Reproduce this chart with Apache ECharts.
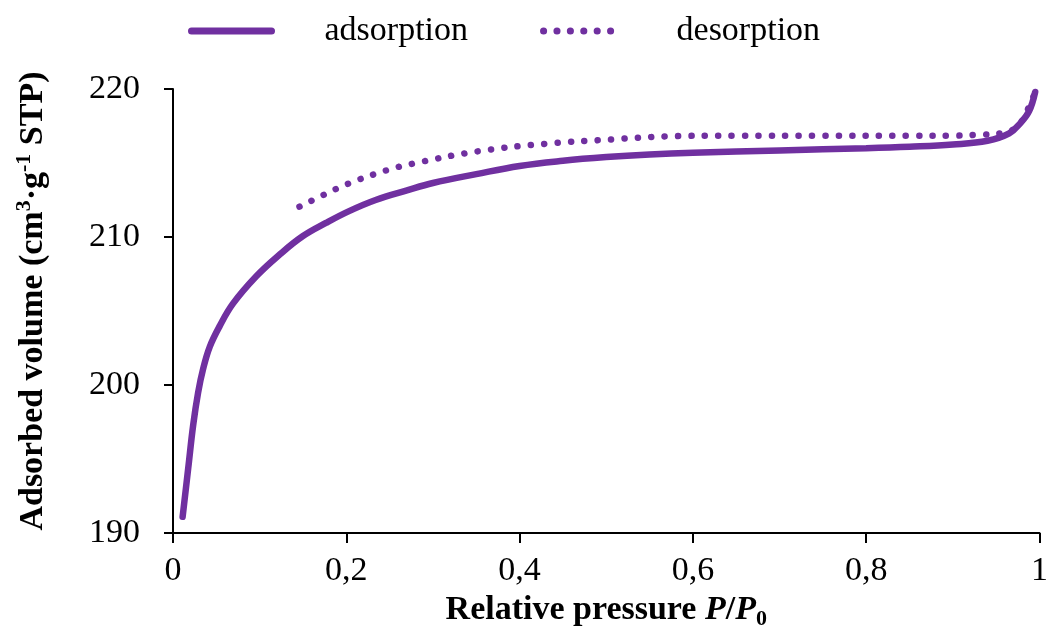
<!DOCTYPE html>
<html>
<head>
<meta charset="utf-8">
<script src="https://cdn.jsdelivr.net/npm/echarts@6/dist/echarts.min.js"></script>
<style>
  html, body { margin: 0; padding: 0; background: #fff; }
  #chart { width: 1051px; height: 635px; }
</style>
</head>
<body>
<div id="chart"></div>
<script>
// relative pressure P/P0 and adsorbed volume
var adsX = [0.0111, 0.0176, 0.0233, 0.029, 0.0348, 0.0425, 0.054, 0.0692, 0.0961, 0.1228, 0.1496, 0.1765, 0.2032, 0.2339, 0.27, 0.3, 0.35, 0.4, 0.45, 0.5, 0.55, 0.6, 0.7, 0.8, 0.85, 0.9, 0.94, 0.965, 0.978, 0.988, 0.995];
var adsY = [191.1, 194.4, 197.3, 199.5, 201.1, 202.6, 204.0, 205.5, 207.35, 208.8, 210.05, 210.95, 211.75, 212.5, 213.15, 213.65, 214.25, 214.8, 215.15, 215.4, 215.58, 215.7, 215.85, 216.0, 216.1, 216.25, 216.5, 217.0, 217.7, 218.5, 219.8];

var desX = [0.146, 0.174, 0.202, 0.246, 0.276, 0.353, 0.43, 0.508, 0.569, 0.65, 0.75, 0.85, 0.9, 0.926, 0.96, 0.974, 0.982, 0.993];
var desY = [212.05, 212.85, 213.6, 214.5, 214.95, 215.8, 216.3, 216.6, 216.8, 216.85, 216.85, 216.85, 216.85, 216.9, 217.05, 217.45, 218.1, 219.5];

var seriesNames = ["adsorption", "desorption"];
var xTicks = [0, 0.2, 0.4, 0.6, 0.8, 1];
var yTicks = [190, 200, 210, 220];

var purple = "#7030a0";
var serif = "Liberation Serif";

function pairs(xs, ys) {
  return xs.map(function (x, i) { return [x, ys[i]]; });
}

const chart = echarts.init(document.getElementById("chart"));
var option = {
  animation: false,
  textStyle: { fontFamily: serif },
  legend: {
    data: seriesNames,
    left: 183,
    top: 9,
    itemWidth: 80,
    itemHeight: 14,
    itemGap: 72,
    itemStyle: { opacity: 0 },
    lineStyle: { width: 7 },
    textStyle: {
      color: "#000",
      fontFamily: serif,
      fontSize: 34,
      padding: [0, 0, 0, 48],
    },
  },
  grid: {
    left: 173,
    right: 7,
    top: 89,
    bottom: 100,
  },
  xAxis: {
    type: "value",
    min: xTicks[0],
    max: xTicks[xTicks.length - 1],
    interval: 0.2,
    splitLine: { show: false },
    axisLine: { lineStyle: { color: "#000", width: 2 } },
    axisTick: { length: 10, lineStyle: { color: "#000", width: 2 } },
    axisLabel: {
      color: "#000",
      fontFamily: serif,
      fontSize: 34,
      margin: 21,
      formatter: function (v) {
        return String(v).replace(".", ",");
      },
    },
    name: "{b|Relative pressure }{i|P}{b|/}{i|P}{sub|0}",
    nameLocation: "middle",
    nameGap: 51,
    nameTextStyle: {
      rich: {
        b: { fontFamily: serif, fontSize: 34, fontWeight: "bold", color: "#000", lineHeight: 40 },
        i: { fontFamily: serif, fontSize: 34, fontWeight: "bold", fontStyle: "italic", color: "#000", lineHeight: 40 },
        sub: { fontFamily: serif, fontSize: 22, fontWeight: "bold", color: "#000", lineHeight: 40, verticalAlign: "bottom" },
      },
    },
  },
  yAxis: {
    type: "value",
    min: yTicks[0],
    max: yTicks[yTicks.length - 1],
    interval: 10,
    splitLine: { show: false },
    axisLine: { show: true, lineStyle: { color: "#000", width: 2 } },
    axisTick: { show: true, length: 9, lineStyle: { color: "#000", width: 2 } },
    axisLabel: {
      color: "#000",
      fontFamily: serif,
      fontSize: 34,
      margin: 33,
    },
    name: "{b|Adsorbed volume (cm}{sup|3}{b|·g}{sup|-1}{b| STP)}",
    nameLocation: "middle",
    nameRotate: 90,
    nameGap: 120,
    nameTextStyle: {
      padding: [0, 0, 0, 20],
      rich: {
        b: { fontFamily: serif, fontSize: 34, fontWeight: "bold", color: "#000", lineHeight: 40 },
        sup: { fontFamily: serif, fontSize: 22, fontWeight: "bold", color: "#000", lineHeight: 40, verticalAlign: "top" },
      },
    },
  },
  series: [
    {
      name: seriesNames[0],
      type: "line",
      smooth: 0.4,
      symbol: "none",
      lineStyle: { color: purple, width: 6.5, cap: "round" },
      itemStyle: { color: purple },
      data: pairs(adsX, adsY),
    },
    {
      name: seriesNames[1],
      type: "line",
      smooth: 0.4,
      symbol: "none",
      lineStyle: { color: purple, width: 6.5, type: [0.1, 13.3], cap: "round" },
      itemStyle: { color: purple },
      data: pairs(desX, desY),
    },
  ],
};
chart.setOption(option);
window.onresize = chart.resize;
</script>
</body>
</html>
